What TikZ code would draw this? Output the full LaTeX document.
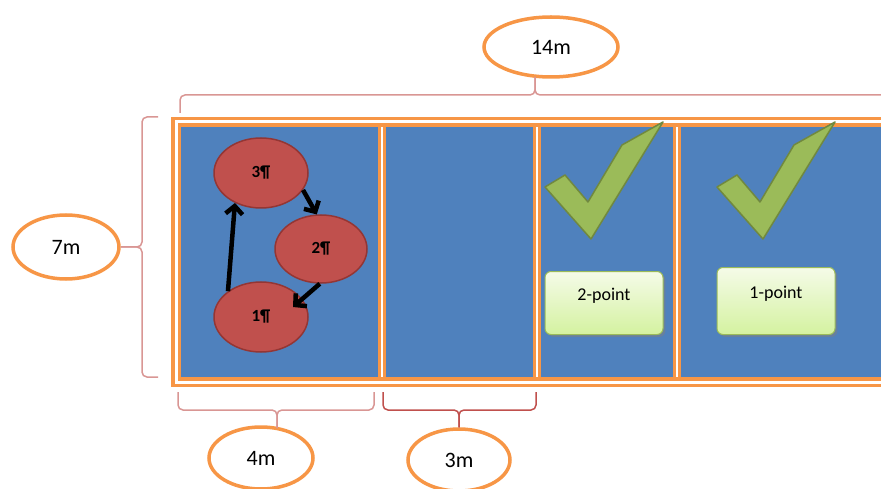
\documentclass[tikz,border=0pt]{standalone}
\usepackage{fontspec}
\setmainfont{Carlito}
\usepackage{tikz}
\usetikzlibrary{shapes.geometric, arrows.meta, shadows, calc}
\definecolor{fieldblue}{HTML}{4F81BD}
\definecolor{railorange}{HTML}{F79646}
\definecolor{ballred}{HTML}{C0504D}
\definecolor{balledge}{HTML}{943634}
\definecolor{tickgreen}{HTML}{9BBB59}
\definecolor{tickedge}{HTML}{71893F}
\definecolor{bracered}{HTML}{D99694}
\definecolor{boxtop}{HTML}{F5FBE8}
\definecolor{boxbottom}{HTML}{D4F2A0}
\tikzstyle{rail} = [draw=railorange, line width=3.5pt, double=white, double distance=3pt]
\tikzstyle{divider} = [draw=railorange, line width=3pt, double=white, double distance=2.5pt]
\tikzstyle{dimlabel} = [ellipse, draw=railorange, line width=3.5pt, fill=white, inner sep=0pt, font=\fontsize{22}{26}\selectfont]
\tikzstyle{dimbrace} = [draw=bracered, line width=1.5pt, rounded corners=5pt]
\tikzstyle{ball} = [ellipse, draw=balledge, line width=1.5pt, fill=ballred, minimum width=94pt, minimum height=70pt, inner sep=0pt, font=\bfseries\fontsize{17}{20}\selectfont]
\tikzstyle{tickmark} = [fill=tickgreen, draw=tickedge, line width=1.5pt, line join=round]
\tikzstyle{score} = [rectangle, rounded corners=6pt, draw=tickgreen, line width=1pt, top color=boxtop, bottom color=boxbottom, minimum width=118pt, text height=12pt, text depth=17pt, drop shadow, font=\fontsize{18}{21}\selectfont]
\tikzstyle{arrow} = [line width=4.5pt, -{Straight Barb[length=8pt,width=17pt]}]

\begin{document}
\begin{tikzpicture}[x=1pt, y=-1pt]
        \useasboundingbox (0,0) rectangle (881,489);

        % field
        \fill[fieldblue] (180,127) rectangle (881,377);
        \draw[divider] (382,126) -- (382,378);
        \draw[divider] (537,126) -- (537,378);
        \draw[divider] (677,126) -- (677,378);
        \draw[rail] (895,122) -- (176,122) -- (176,382) -- (895,382);

        % dimensions
        \node (len) [dimlabel, minimum width=134pt, minimum height=60pt] at (551,47) {14m};
        \node (wid) [dimlabel, minimum width=106pt, minimum height=64pt] at (66,247) {7m};
        \node (four) [dimlabel, minimum width=104pt, minimum height=62pt] at (261,458) {4m};
        \node (three) [dimlabel, minimum width=102pt, minimum height=62pt] at (459,460) {3m};

        \draw[dimbrace] (180,113) |- (535,95) -- (535,77);
        \draw[dimbrace] (535,77) -- (535,95) -| (890,113);
        \draw[dimbrace] (158,117) -| (142,247) -- (wid.east);
        \draw[dimbrace] (wid.east) -- (142,247) |- (158,377);
        \draw[dimbrace] (178,392) |- (277,410) -- (277,428);
        \draw[dimbrace] (277,428) -- (277,410) -| (374,392);
        \draw[dimbrace, draw=ballred] (383,392) |- (459,410) -- (three.north);
        \draw[dimbrace, draw=ballred] (three.north) -- (459,410) -| (536,392);

        % rotation
        \node (e3) [ball] at (261,173) {3¶};
        \node (e2) [ball, minimum width=92pt, minimum height=68pt] at (321,249) {2¶};
        \node (e1) [ball] at (261,317) {1¶};
        \draw[arrow] (e1.142) -- (e3.229);
        \draw[arrow] (e3.-22) -- (e2.97);
        \draw[arrow] (e2.-92) -- ($(e1.center)+(32,-10)$);

        % scoring zones
        \draw[tickmark] (545,187) -- (565,175) -- (588,202) -- (622,145) -- (663,122) -- (591,239) -- cycle;
        \draw[tickmark] (717,187) -- (737,175) -- (760,202) -- (794,145) -- (835,122) -- (763,239) -- cycle;
        \node (two) [score, minimum height=63pt] at (604,303) {2-point};
        \node (one) [score, minimum height=67pt] at (776,301) {1-point};
\end{tikzpicture}
\end{document}
